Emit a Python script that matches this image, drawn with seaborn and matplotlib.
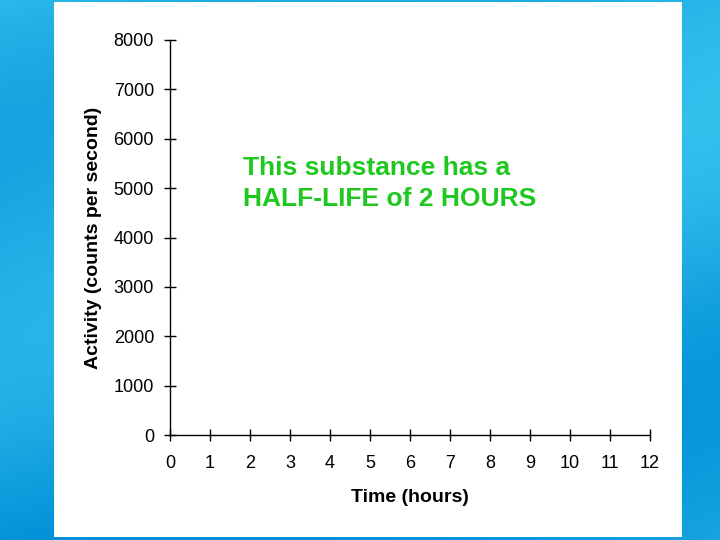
import numpy as np
import matplotlib
matplotlib.use("Agg")
import matplotlib.pyplot as plt
from matplotlib.patches import Rectangle
import seaborn as sns

# axis setup (the chart has no data plotted)
x_ticks = [0, 1, 2, 3, 4, 5, 6, 7, 8, 9, 10, 11, 12]
y_ticks = [0, 1000, 2000, 3000, 4000, 5000, 6000, 7000, 8000]
x_label = "Time (hours)"
y_label = "Activity (counts per second)"
note_lines = ["This substance has a", "HALF-LIFE of 2 HOURS"]

sns.set_style("ticks")
plt.rcParams['font.family'] = ['Liberation Sans', 'DejaVu Sans']

fig = plt.figure(figsize=(7.2, 5.4), dpi=100)

# blue slide background
bg = fig.add_axes([0, 0, 1, 1], zorder=-10)
h, w = 540, 720
yy, xx = np.mgrid[0:h, 0:w] / np.array([h, w])[:, None, None]
top = np.array([0.22, 0.78, 0.94])
bot = np.array([0.0, 0.56, 0.84])
t = (0.5 * yy + 0.5 * (0.5 + 0.5 * np.sin(7 * yy + 3 * xx)))[..., None]
img = top * (1 - t) + bot * t
bg.imshow(img, aspect="auto", extent=[0, 1, 0, 1])
bg.set_axis_off()

# white panel
fig.patches.append(Rectangle((54 / 720, 3 / 540), 628 / 720, 535 / 540,
                             transform=fig.transFigure, facecolor="white",
                             edgecolor="none", zorder=-5))

ax = fig.add_axes([170 / 720, 105 / 540, 480 / 720, 395 / 540])
ax.set_facecolor("none")
ax.set_xlim(x_ticks[0], x_ticks[-1])
ax.set_ylim(y_ticks[0], y_ticks[-1])
ax.set_xticks(x_ticks)
ax.set_yticks(y_ticks)
ax.set_xticklabels([str(v) for v in x_ticks])
ax.set_yticklabels([str(v) for v in y_ticks])
sns.despine(ax=ax)
for s in ["left", "bottom"]:
    ax.spines[s].set_linewidth(1.0)
    ax.spines[s].set_color("black")
    ax.spines[s].set_clip_on(False)
ax.tick_params(axis="both", direction="inout", length=9, width=1.0,
               colors="black", labelsize=13)
ax.tick_params(axis="y", pad=7)
ax.tick_params(axis="x", pad=10)

ax.set_xlabel(x_label, fontsize=14, fontweight="bold", va="center", color="black")
ax.xaxis.set_label_coords(0.5, -0.157)
ax.set_ylabel(y_label, fontsize=14, fontweight="bold", va="center", color="black")
ax.yaxis.set_label_coords(-0.160, 0.5)

ax.text(0.152, 0.675, note_lines[0], transform=ax.transAxes, color="#1ec81e",
        fontsize=19, fontweight="bold", va="center", ha="left")
ax.text(0.152, 0.597, note_lines[1], transform=ax.transAxes, color="#1ec81e",
        fontsize=19, fontweight="bold", va="center", ha="left")

fig.savefig("out.png", dpi=100)
